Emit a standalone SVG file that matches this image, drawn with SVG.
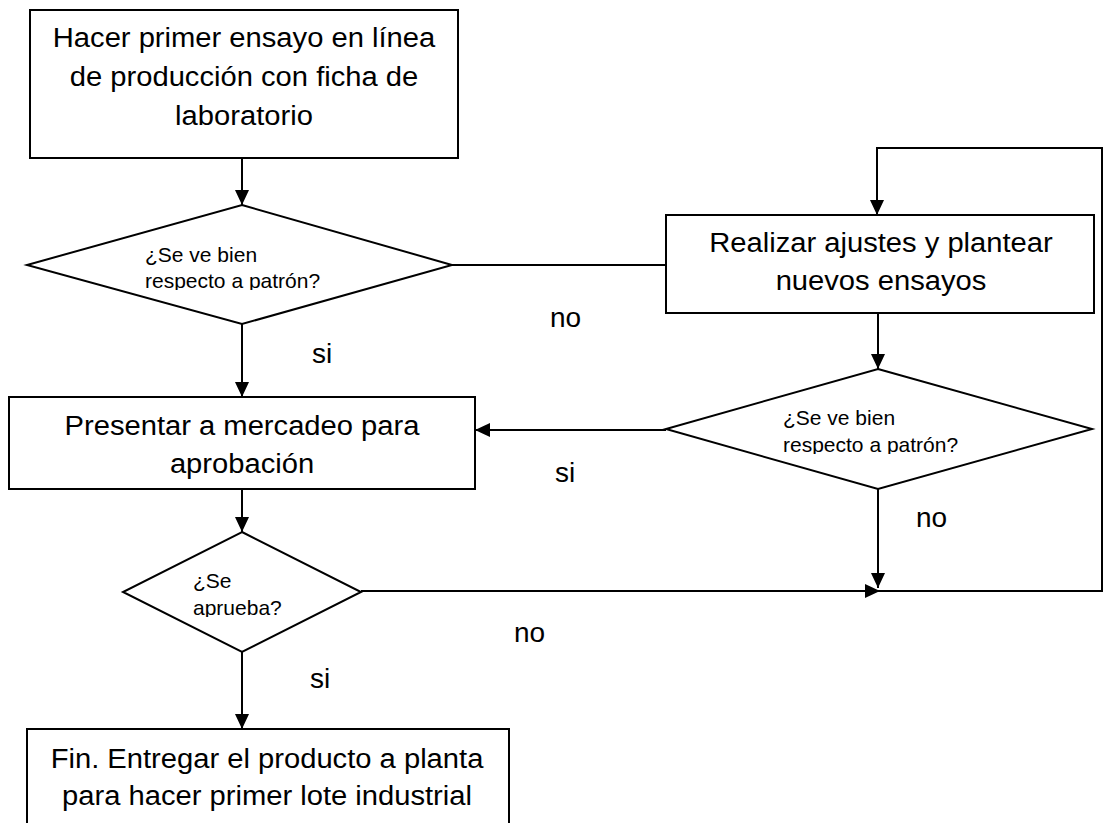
<svg xmlns="http://www.w3.org/2000/svg" width="1104" height="823" viewBox="0 0 1104 823">
  <style>
    .box { fill: #ffffff; stroke: #000000; stroke-width: 2; }
    .line { fill: none; stroke: #000000; stroke-width: 2; }
    .big { font-family: "Liberation Sans", Arial, sans-serif; font-size: 27px; fill: #000000; text-anchor: middle; }
    .small { font-family: "Liberation Sans", Arial, sans-serif; font-size: 21px; fill: #000000; }
    .label { font-family: "Liberation Sans", Arial, sans-serif; font-size: 28px; fill: #000000; }
  </style>
  <defs>
    <marker id="arrow" markerUnits="userSpaceOnUse" markerWidth="16" markerHeight="16" viewBox="0 0 16 16" refX="15" refY="8" orient="auto">
      <path d="M0,1 L15,8 L0,15 Z" fill="#000000"/>
    </marker>
    <clipPath id="clipD1"><rect x="100" y="230" width="300" height="60"/></clipPath>
    <clipPath id="clipD2"><rect x="740" y="394" width="300" height="60"/></clipPath>
    <clipPath id="clipD3"><rect x="150" y="560" width="200" height="57"/></clipPath>
  </defs>

  <!-- connectors -->
  <g id="connectors">
    <line class="line" x1="242" y1="158" x2="242" y2="205" marker-end="url(#arrow)"/>
    <line class="line" x1="242" y1="324" x2="242" y2="397" marker-end="url(#arrow)"/>
    <line class="line" x1="452" y1="265" x2="666" y2="265"/>
    <line class="line" x1="878" y1="313" x2="878" y2="369" marker-end="url(#arrow)"/>
    <line class="line" x1="666" y1="430" x2="475" y2="430" marker-end="url(#arrow)"/>
    <line class="line" x1="878" y1="489" x2="878" y2="588" marker-end="url(#arrow)"/>
    <line class="line" x1="242" y1="489" x2="242" y2="532" marker-end="url(#arrow)"/>
    <line class="line" x1="361" y1="591" x2="880" y2="591" marker-end="url(#arrow)"/>
    <polyline class="line" points="880,591 1102,591 1102,148 877,148 877,215" marker-end="url(#arrow)"/>
    <line class="line" x1="242" y1="652" x2="242" y2="729" marker-end="url(#arrow)"/>
  </g>

  <!-- start step -->
  <g id="hacer-ensayo">
    <rect class="box" x="30" y="10" width="428" height="148"/>
    <g transform="translate(244 0) scale(1.08 1)">
      <text class="big" x="0" y="47">Hacer primer ensayo en línea</text>
      <text class="big" x="0" y="86">de producción con ficha de</text>
      <text class="big" x="0" y="125">laboratorio</text>
    </g>
  </g>

  <!-- first check -->
  <g id="decision-patron-1">
    <polygon class="box" points="242,205 452,265 242,324 27,265"/>
    <g clip-path="url(#clipD1)">
      <text class="small" x="145" y="262">¿Se ve bien</text>
      <text class="small" x="145" y="288">respecto a patrón?</text>
    </g>
  </g>

  <!-- adjustments -->
  <g id="realizar-ajustes">
    <rect class="box" x="666" y="215" width="428" height="98"/>
    <g transform="translate(881 0) scale(1.08 1)">
      <text class="big" x="0" y="252">Realizar ajustes y plantear</text>
      <text class="big" x="0" y="290">nuevos ensayos</text>
    </g>
  </g>

  <!-- second check -->
  <g id="decision-patron-2">
    <polygon class="box" points="878,369 1092,429 878,489 666,429"/>
    <g clip-path="url(#clipD2)">
      <text class="small" x="783" y="425">¿Se ve bien</text>
      <text class="small" x="783" y="452">respecto a patrón?</text>
    </g>
  </g>

  <!-- marketing -->
  <g id="presentar-mercadeo">
    <rect class="box" x="9" y="397" width="466" height="92"/>
    <g transform="translate(242 0) scale(1.08 1)">
      <text class="big" x="0" y="435">Presentar a mercadeo para</text>
      <text class="big" x="0" y="473">aprobación</text>
    </g>
  </g>

  <!-- approval -->
  <g id="decision-aprueba">
    <polygon class="box" points="242,532 361,592 242,652 123,592"/>
    <g clip-path="url(#clipD3)">
      <text class="small" x="193" y="588">¿Se</text>
      <text class="small" x="193" y="615">aprueba?</text>
    </g>
  </g>

  <!-- end -->
  <g id="fin">
    <rect class="box" x="27" y="729" width="482" height="110"/>
    <g transform="translate(267 0) scale(1.08 1)">
      <text class="big" x="0" y="768">Fin. Entregar el producto a planta</text>
      <text class="big" x="0" y="805">para hacer primer lote industrial</text>
    </g>
  </g>

  <!-- branch labels -->
  <g id="labels">
    <text class="label" x="550" y="327">no</text>
    <text class="label" x="312" y="363">si</text>
    <text class="label" x="555" y="482">si</text>
    <text class="label" x="916" y="527">no</text>
    <text class="label" x="514" y="642">no</text>
    <text class="label" x="310" y="688">si</text>
  </g>
</svg>
